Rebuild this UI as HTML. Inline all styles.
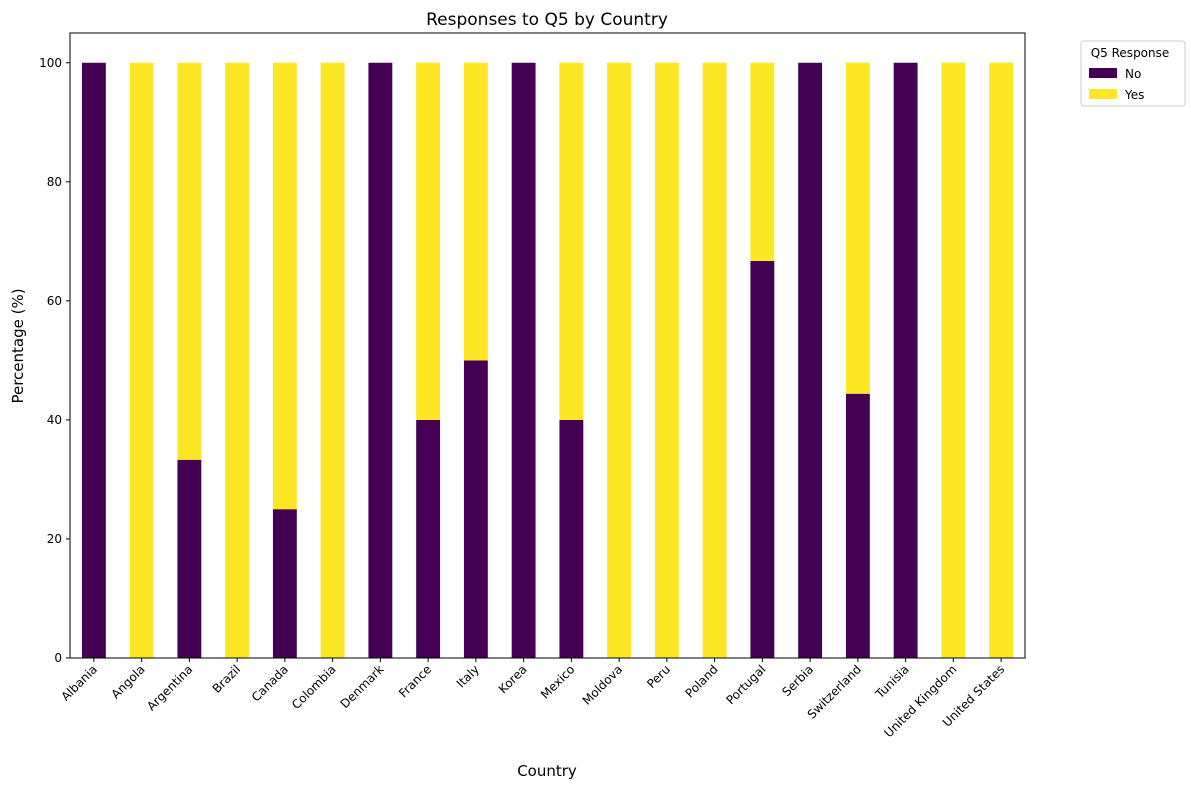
<!DOCTYPE html>
<html><head><meta charset="utf-8"><style>
body{margin:0;background:#fff;font-family:"Liberation Sans","DejaVu Sans",sans-serif;}
svg text{font-family:"DejaVu Sans","Liberation Sans",sans-serif;}
</style></head><body>
<svg id="chart" width="1191" height="790" xmlns="http://www.w3.org/2000/svg">
<rect width="1191" height="790" fill="#fff"/>
<text x="547" y="25" font-size="17" text-anchor="middle">Responses to Q5 by Country</text>
<g id="bars"></g>
<g id="axes"></g>
<rect x="70" y="33" width="955" height="625" fill="none" stroke="#000" stroke-width="1"/>
<text x="547" y="776" font-size="15" text-anchor="middle">Country</text>
<text transform="translate(23,346) rotate(-90)" font-size="15" text-anchor="middle">Percentage (%)</text>
<g>
<rect x="1081" y="41" width="104" height="65" fill="#fff" stroke="#ccc" rx="3"/>
<text x="1130" y="57" font-size="12" text-anchor="middle">Q5 Response</text>
<rect x="1089" y="68" width="28" height="10" fill="#440154"/>
<text x="1125" y="78" font-size="12">No</text>
<rect x="1089" y="89" width="28" height="10" fill="#fde725"/>
<text x="1125" y="99" font-size="12">Yes</text>
</g>
</svg>
<script>
const categories=["Albania","Angola","Argentina","Brazil","Canada","Colombia","Denmark","France","Italy","Korea","Mexico","Moldova","Peru","Poland","Portugal","Serbia","Switzerland","Tunisia","United Kingdom","United States"];
const noValues=[100,0,33.3,0,25,0,100,40,50,100,40,0,0,0,66.7,100,44.4,100,0,0];
const yesValues=[0,100,66.7,100,75,100,0,60,50,0,60,100,100,100,33.3,0,55.6,0,100,100];
const yTicks=[0,20,40,60,80,100];
const NS="http://www.w3.org/2000/svg";
const L=70,R=1025,T=33,B=658,yMax=105;
const step=(R-L)/categories.length;
const xc=i=>L+step*(i+0.5);
const y=v=>B-(v/yMax)*(B-T);
const bars=document.getElementById('bars'),axes=document.getElementById('axes');
function mk(tag,attrs,parent){const e=document.createElementNS(NS,tag);for(const k in attrs)e.setAttribute(k,attrs[k]);parent.appendChild(e);return e;}
const bw=step*0.5;
categories.forEach((c,i)=>{
  const n=noValues[i],yv=yesValues[i];
  const r1=mk('rect',{x:xc(i)-bw/2,y:y(n),width:bw,height:y(0)-y(n),fill:'#440154'},bars);
  
  
  const r2=mk('rect',{x:xc(i)-bw/2,y:y(n+yv),width:bw,height:y(n)-y(n+yv),fill:'#fde725'},bars);
  
  
  const tk=mk('line',{x1:xc(i),x2:xc(i),y1:B,y2:B+4,stroke:'#000'},axes);
  
  
  const t=mk('text',{transform:`translate(${xc(i)+4},${B+12}) rotate(-45)`,'font-size':12,'text-anchor':'end'},axes);
  t.textContent=c;
  
  
});
yTicks.forEach(v=>{
  const tk=mk('line',{x1:L-4,x2:L,y1:y(v),y2:y(v),stroke:'#000'},axes);
  
  
  const t=mk('text',{x:L-8,y:y(v)+4,'font-size':12,'text-anchor':'end'},axes);
  t.textContent=v;
  
  
});
</script>
</body></html>
